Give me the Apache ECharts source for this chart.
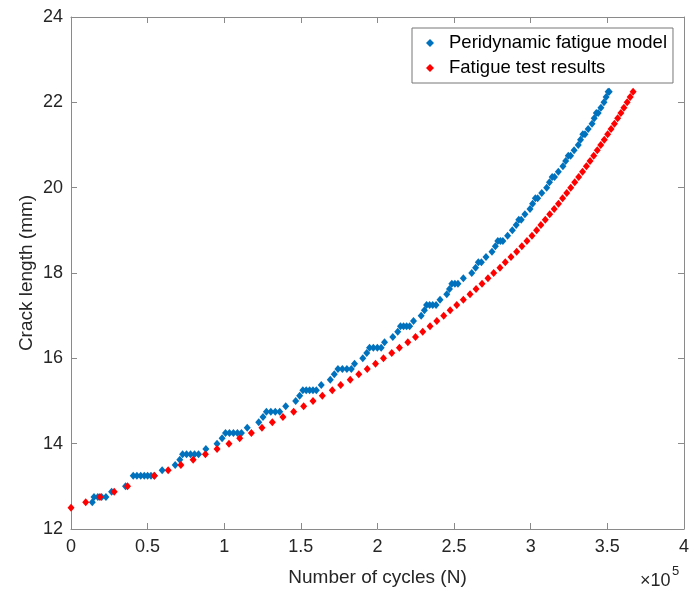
<!DOCTYPE html>
<html>
<head>
<meta charset="utf-8">
<script src="https://cdn.jsdelivr.net/npm/echarts@6/dist/echarts.min.js"></script>
<style>
  html, body { margin: 0; padding: 0; background: #fff; }
  #chart { width: 692px; height: 596px; }
</style>
</head>
<body>
<div id="chart"></div>
<script>
// cycles are in units of 1e5 (axis shows x10^5)
const blueCycles = [
  0.139,
  0.150, 0.175, 0.200, 0.228,
  0.265, 0.356,
  0.406, 0.430, 0.455, 0.478, 0.500, 0.522, 0.545,
  0.595, 0.680, 0.710,
  0.728, 0.754, 0.780, 0.806, 0.832,
  0.880, 0.953, 0.986,
  1.008, 1.034, 1.060, 1.086, 1.112,
  1.150, 1.225, 1.253,
  1.275, 1.304, 1.333, 1.362,
  1.401, 1.466, 1.492,
  1.513, 1.535, 1.557, 1.579, 1.601,
  1.633, 1.692, 1.718,
  1.742, 1.771, 1.800, 1.829,
  1.850, 1.904, 1.930,
  1.948, 1.973, 1.999, 2.024,
  2.046, 2.100, 2.132,
  2.150, 2.170, 2.190, 2.210,
  2.235, 2.285, 2.306,
  2.320, 2.340, 2.360, 2.382,
  2.408, 2.452, 2.470,
  2.485, 2.505, 2.525,
  2.560, 2.615, 2.640,
  2.658, 2.678,
  2.708, 2.747, 2.769,
  2.785, 2.802, 2.818,
  2.849, 2.880, 2.905,
  2.922, 2.938,
  2.962, 2.995, 3.012,
  3.030, 3.045,
  3.072, 3.104, 3.122,
  3.140, 3.155,
  3.180, 3.210, 3.228,
  3.245, 3.260,
  3.283, 3.310, 3.325,
  3.340, 3.354,
  3.375, 3.400, 3.414,
  3.428, 3.440,
  3.458, 3.478, 3.492,
  3.505, 3.512
]
const blueLength = [
  12.625,
  12.75, 12.75, 12.75, 12.75,
  12.875, 13.0,
  13.25, 13.25, 13.25, 13.25, 13.25, 13.25, 13.25,
  13.375, 13.5, 13.625,
  13.75, 13.75, 13.75, 13.75, 13.75,
  13.875, 14.0, 14.125,
  14.25, 14.25, 14.25, 14.25, 14.25,
  14.375, 14.5, 14.625,
  14.75, 14.75, 14.75, 14.75,
  14.875, 15.0, 15.125,
  15.25, 15.25, 15.25, 15.25, 15.25,
  15.375, 15.5, 15.625,
  15.75, 15.75, 15.75, 15.75,
  15.875, 16.0, 16.125,
  16.25, 16.25, 16.25, 16.25,
  16.375, 16.5, 16.625,
  16.75, 16.75, 16.75, 16.75,
  16.875, 17.0, 17.125,
  17.25, 17.25, 17.25, 17.25,
  17.375, 17.5, 17.625,
  17.75, 17.75, 17.75,
  17.875, 18.0, 18.125,
  18.25, 18.25,
  18.375, 18.5, 18.625,
  18.75, 18.75, 18.75,
  18.875, 19.0, 19.125,
  19.25, 19.25,
  19.375, 19.5, 19.625,
  19.75, 19.75,
  19.875, 20.0, 20.125,
  20.25, 20.25,
  20.375, 20.5, 20.625,
  20.75, 20.75,
  20.875, 21.0, 21.125,
  21.25, 21.25,
  21.375, 21.5, 21.625,
  21.75, 21.75,
  21.875, 22.0, 22.125,
  22.25, 22.25
]

const redCycles = [
  0, 0.096, 0.189, 0.282, 0.369,
  0.543, 0.634, 0.717, 0.797, 0.877, 0.953, 1.031, 1.101, 1.177, 1.246,
  1.314, 1.383, 1.453, 1.518, 1.579, 1.640, 1.705, 1.760, 1.822, 1.878,
  1.933, 1.987, 2.039, 2.093, 2.143, 2.198, 2.248, 2.295, 2.343, 2.387,
  2.432, 2.474, 2.517, 2.560, 2.604, 2.643, 2.682, 2.721, 2.758, 2.799,
  2.834, 2.871, 2.908, 2.942, 2.975, 3.008, 3.038, 3.066, 3.095, 3.124,
  3.153, 3.181, 3.208, 3.235, 3.261, 3.287, 3.313, 3.338, 3.363, 3.387,
  3.411, 3.434, 3.457, 3.480, 3.502, 3.524, 3.546, 3.567, 3.588, 3.608,
  3.629, 3.649, 3.668
]
const redLength = [
  12.5, 12.625, 12.75, 12.875, 13.0,
  13.25, 13.375, 13.5, 13.625, 13.75, 13.875, 14.0, 14.125, 14.25, 14.375,
  14.5, 14.625, 14.75, 14.875, 15.0, 15.125, 15.25, 15.375, 15.5, 15.625,
  15.75, 15.875, 16.0, 16.125, 16.25, 16.375, 16.5, 16.625, 16.75, 16.875,
  17.0, 17.125, 17.25, 17.375, 17.5, 17.625, 17.75, 17.875, 18.0, 18.125,
  18.25, 18.375, 18.5, 18.625, 18.75, 18.875, 19.0, 19.125, 19.25, 19.375,
  19.5, 19.625, 19.75, 19.875, 20.0, 20.125, 20.25, 20.375, 20.5, 20.625,
  20.75, 20.875, 21.0, 21.125, 21.25, 21.375, 21.5, 21.625, 21.75, 21.875,
  22.0, 22.125, 22.25
]

const seriesNames = ['Peridynamic fatigue model', 'Fatigue test results']
const colorList = ['#0072BD', '#FF0000']

const fontFam = '"Liberation Sans", Arial, sans-serif'
const textColor = '#262626'
const lineColor = '#8a8a8a'

function pairs(xs, ys) {
  return xs.map((x, i) => [x, ys[i]])
}

let myChart = echarts.init(document.getElementById('chart'))

let axisCommon = {
  axisLine: { show: true, onZero: false, lineStyle: { color: lineColor, width: 1 } },
  axisTick: { show: true, inside: true, length: 6, lineStyle: { color: lineColor } },
  splitLine: { show: false }
}

let option = {
  animation: false,
  backgroundColor: '#fff',
  color: colorList,
  grid: { left: 71, right: 7, top: 17, bottom: 67 },
  legend: {
    orient: 'vertical',
    left: 412,
    top: 28,
    padding: [5, 6, 5, 14],
    itemGap: 5,
    itemWidth: 8,
    itemHeight: 8,
    borderColor: '#777',
    borderWidth: 1,
    textStyle: {
      fontFamily: fontFam,
      fontSize: 18.5,
      color: '#000',
      lineHeight: 20,
      padding: [0, 0, 0, 10]
    },
    data: seriesNames.map(n => ({ name: n, icon: 'diamond' }))
  },
  xAxis: [
    Object.assign({}, axisCommon, {
      type: 'value',
      position: 'bottom',
      min: 0,
      max: 4,
      interval: 0.5,
      name: 'Number of cycles (N)',
      nameLocation: 'middle',
      nameGap: 39,
      nameTextStyle: { fontFamily: fontFam, fontSize: 19, color: textColor },
      axisLabel: { fontFamily: fontFam, fontSize: 18, color: textColor, margin: 9 }
    }),
    Object.assign({}, axisCommon, {
      type: 'value',
      position: 'top',
      min: 0,
      max: 4,
      interval: 0.5,
      axisLabel: { show: false }
    })
  ],
  yAxis: [
    Object.assign({}, axisCommon, {
      type: 'value',
      position: 'left',
      min: 12,
      max: 24,
      interval: 2,
      name: 'Crack length (mm)',
      nameLocation: 'middle',
      nameGap: 35,
      nameMoveOverlap: false,
      nameTextStyle: { fontFamily: fontFam, fontSize: 19, color: textColor },
      axisLabel: { fontFamily: fontFam, fontSize: 18, color: textColor, margin: 8 }
    }),
    Object.assign({}, axisCommon, {
      type: 'value',
      position: 'right',
      min: 12,
      max: 24,
      interval: 2,
      axisLabel: { show: false }
    })
  ],
  graphic: [
    {
      type: 'text',
      left: 640,
      top: 572,
      style: { text: '×10', fontFamily: fontFam, fontSize: 18, fill: textColor }
    },
    {
      type: 'text',
      left: 672,
      top: 565,
      style: { text: '5', fontFamily: fontFam, fontSize: 13, fill: textColor }
    }
  ],
  series: [
    {
      name: seriesNames[0],
      type: 'scatter',
      symbol: 'diamond',
      symbolSize: [7, 8],
      itemStyle: { color: colorList[0], opacity: 1 },
      data: pairs(blueCycles, blueLength)
    },
    {
      name: seriesNames[1],
      type: 'scatter',
      symbol: 'diamond',
      symbolSize: [7, 8],
      itemStyle: { color: colorList[1], opacity: 1 },
      data: pairs(redCycles, redLength)
    }
  ]
}

myChart.setOption(option)
</script>
</body>
</html>
